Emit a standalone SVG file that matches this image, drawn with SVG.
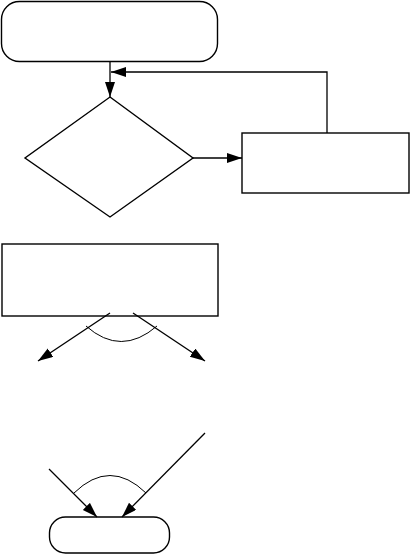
<svg xmlns="http://www.w3.org/2000/svg" width="410" height="555" viewBox="0 0 410 555">
<style>
.n{fill:#fff;stroke:#000;stroke-width:1.4}
.c{fill:none;stroke:#000;stroke-width:1.3}
.a{fill:none;stroke:#000;stroke-width:1}
</style>
<defs>
<marker id="ah" markerUnits="userSpaceOnUse" markerWidth="16" markerHeight="11" refX="15" refY="5" orient="auto">
<path d="M0,0 L15,5 L0,10 z" fill="#000"/>
</marker>
</defs>
<rect width="410" height="555" fill="#fff"/>
<g id="start"><rect class="n" x="1.5" y="1.5" width="216" height="60" rx="18"/></g>
<g id="decision"><polygon class="n" points="110,97 193,158 110,217 25,158"/></g>
<g id="process-right"><rect class="n" x="242" y="133" width="167" height="60"/></g>
<g id="process-main"><rect class="n" x="2" y="244" width="216" height="72"/></g>
<g id="end"><rect class="n" x="49.5" y="517" width="120" height="36" rx="16"/></g>
<g id="connectors">
<line class="c" x1="110" y1="62" x2="110" y2="97" marker-end="url(#ah)"/>
<polyline class="c" points="327,133 327,72 111,72" marker-end="url(#ah)"/>
<line class="c" x1="193" y1="158" x2="242" y2="158" marker-end="url(#ah)"/>
<line class="c" x1="110" y1="313" x2="38" y2="361" marker-end="url(#ah)"/>
<line class="c" x1="133" y1="313" x2="205" y2="361" marker-end="url(#ah)"/>
<path class="a" d="M86,326 Q121,357 157,326"/>
<line class="c" x1="49" y1="469" x2="97" y2="517" marker-end="url(#ah)"/>
<line class="c" x1="205" y1="433" x2="122" y2="517" marker-end="url(#ah)"/>
<path class="a" d="M74,493 Q110,458 146,493"/>
</g>
</svg>
